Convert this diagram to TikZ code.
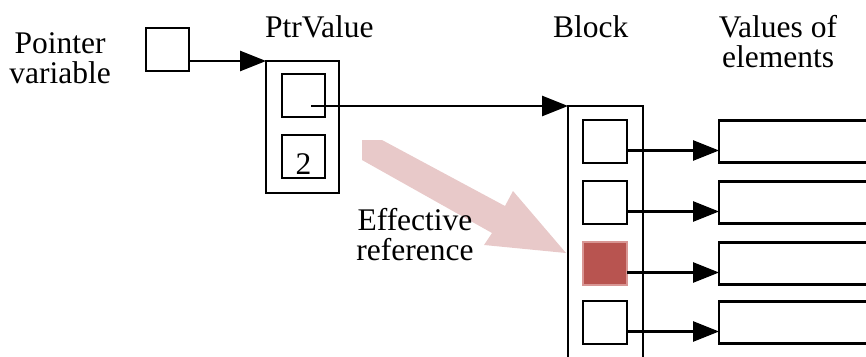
\documentclass[tikz,border=0pt]{standalone}
\usepackage{fontspec}
\setmainfont{Liberation Serif}
\usetikzlibrary{arrows.meta,calc}

\definecolor{hiFill}{RGB}{184,84,80}
\definecolor{hiEdge}{RGB}{216,150,148}
\definecolor{bigArrow}{RGB}{232,201,201}

\tikzset{
  lbl/.style={font=\fontsize{31.5}{30}\selectfont, inner sep=0pt, align=center},
  cell/.style={draw, line width=2.6pt, minimum width=44pt, minimum height=43pt, inner sep=0pt, outer sep=0pt},
  valbox/.style={draw, line width=2.6pt, minimum width=170pt, minimum height=42pt, inner sep=0pt, outer sep=0pt, anchor=west},
  frame/.style={draw, line width=2.6pt, inner sep=0pt, outer sep=0pt},
  arr/.style={line width=2.6pt, -{Triangle[length=26pt,width=20pt]}},
}

\begin{document}
\begin{tikzpicture}[x=1pt,y=-1pt]
\useasboundingbox (0,0) rectangle (866,356);
\clip (0,0) rectangle (866,356);

% labels (multi-line labels are anchored at their last baseline)
\node[lbl, anchor=base] (lptr) at (60,83) {Pointer\\variable};
\node[lbl, anchor=base west] (lpv) at (265,37) {PtrValue};
\node[lbl, anchor=base west] (lblk) at (553,37) {Block};
\node[lbl, anchor=base] (lval) at (778,67) {Values of\\elements};

% broad arrow marking the effective reference
\fill[bigArrow] (362,140) -- (382,140) -- (505,206) -- (513,191) -- (566,253)
  -- (484,245) -- (492,233) -- (362,160) -- cycle;
\node[lbl, anchor=base] (leff) at (415,260) {Effective\\reference};

% pointer variable
\node[cell, minimum width=43pt] (pvar) at (167.5,49.5) {};

% PtrValue record
\node[frame, minimum width=73pt, minimum height=132pt] (ptr) at (302.5,127) {};
\node[cell, minimum width=43pt] (in1) at (303.5,95.5) {};
\node[cell, minimum width=43pt, font=\fontsize{31.5}{30}\selectfont, text height=35pt, text depth=0pt] (in2) at (303.5,156.5) {2};

% Block (open at the bottom)
\coordinate (blkTL) at (568,106);
\coordinate (blkTR) at (643,106);
\draw[line width=2.6pt] (568,370) -- (blkTL) -- (blkTR) -- (643,370);

\node[cell] (b1) at (605,141.5) {};
\node[cell] (b2) at (605,202.5) {};
\node[cell, fill=hiFill, draw=hiEdge, line width=2pt] (b3) at (605,263.5) {};
\node[cell] (b4) at (605,322.5) {};

% element values
\node[valbox] (v1) at (719,141.5) {};
\node[valbox] (v2) at (719,202.5) {};
\node[valbox] (v3) at (719,263.5) {};
\node[valbox] (v4) at (719,322.5) {};

% connectors
\draw[arr] (pvar.east |- ptr.north west) -- (ptr.north west);
\draw[arr] ($(in1.center)+(7.5,10.5)$) -- (blkTL);
\foreach \i in {1,...,4}{
  \draw[arr] ([yshift=-9pt]b\i.east) -- ([yshift=-9pt]v\i.west);
}
\end{tikzpicture}
\end{document}
